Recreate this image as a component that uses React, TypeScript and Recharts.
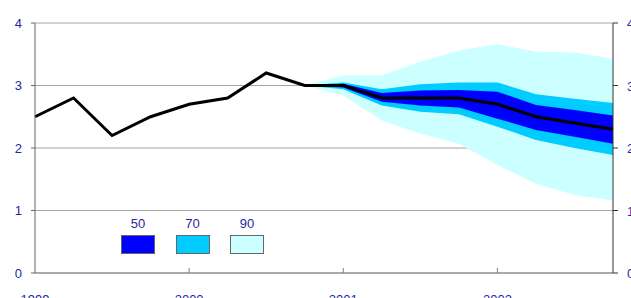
import { Area, CartesianGrid, ComposedChart, Line, XAxis, YAxis } from "recharts"

const quarters = [
  "1999", "1999Q2", "1999Q3", "1999Q4",
  "2000", "2000Q2", "2000Q3", "2000Q4",
  "2001", "2001Q2", "2001Q3", "2001Q4",
  "2002", "2002Q2", "2002Q3", "2002Q4",
]

const inflation = [2.5, 2.8, 2.2, 2.5, 2.7, 2.8, 3.2, 3.0, 3.0, 2.8, 2.8, 2.8, 2.7, 2.5, 2.4, 2.3]

// fan bands (null = no projection yet)
const low90 = [null, null, null, null, null, null, null, 3.0, 2.84, 2.44, 2.23, 2.07, 1.73, 1.43, 1.25, 1.16]
const high90 = [null, null, null, null, null, null, null, 3.0, 3.16, 3.16, 3.38, 3.56, 3.66, 3.54, 3.53, 3.43]
const low70 = [null, null, null, null, null, null, null, 3.0, 2.94, 2.68, 2.58, 2.54, 2.34, 2.13, 2.0, 1.89]
const high70 = [null, null, null, null, null, null, null, 3.0, 3.05, 2.94, 3.02, 3.05, 3.05, 2.86, 2.79, 2.72]
const low50 = [null, null, null, null, null, null, null, 3.0, 2.97, 2.74, 2.68, 2.65, 2.47, 2.29, 2.18, 2.07]
const high50 = [null, null, null, null, null, null, null, 3.0, 3.03, 2.88, 2.92, 2.93, 2.9, 2.69, 2.61, 2.52]

const bands = [
  { label: "50", color: "#0000ff" },
  { label: "70", color: "#00ccff" },
  { label: "90", color: "#ccffff" },
]

const yTicks = [0, 1, 2, 3, 4]

const data = quarters.map((q, i) => ({
  q,
  value: inflation[i],
  b90: low90[i] == null ? null : [low90[i], high90[i]],
  b70: low70[i] == null ? null : [low70[i], high70[i]],
  b50: low50[i] == null ? null : [low50[i], high50[i]],
}))

const textColor = "#28289c"
const font = "'Liberation Sans', Arial, sans-serif"

function XTick(props: any) {
  const { x, y, payload, index } = props
  return (
    <g>
      {index > 0 && <line x1={x} x2={x} y1={y - 5} y2={y} stroke="#808080" />}
      <text x={x} y={y + 31} textAnchor="middle" fill={textColor} fontSize={13} fontFamily={font}>
        {payload.value}
      </text>
    </g>
  )
}

// right axis labels sit mostly past the edge, like the original
function RightTick(props: any) {
  const { y, payload } = props
  return (
    <text x={627} y={y + 5} textAnchor="start" fill={textColor} fontSize={13} fontFamily={font}>
      {payload.value}
    </text>
  )
}

export default function App() {
  return (
    <div style={{ position: "absolute", left: 0, top: 0, width: 631, height: 298, background: "#fff", overflow: "hidden" }}>
      <ComposedChart width={631} height={298} data={data} margin={{ top: 23, right: 0, bottom: 0, left: 0 }}>
        <CartesianGrid yAxisId="left" vertical={false} stroke="#a6a6a6" />
        <XAxis
          dataKey="q"
          interval={3}
          height={25}
          tickLine={false}
          tickSize={0}
          tickMargin={0}
          axisLine={{ stroke: "#808080" }}
          tick={<XTick />}
        />
        <YAxis
          yAxisId="left"
          domain={[0, 4]}
          ticks={yTicks}
          width={35}
          tickSize={4}
          tickMargin={9}
          axisLine={{ stroke: "#666" }}
          tickLine={{ stroke: "#666" }}
          tick={{ fill: textColor, fontSize: 13, fontFamily: font }}
        />
        <YAxis
          yAxisId="right"
          orientation="right"
          domain={[0, 4]}
          ticks={yTicks}
          width={18}
          tickSize={5}
          axisLine={{ stroke: "#333" }}
          tickLine={{ stroke: "#333" }}
          tick={<RightTick />}
        />
        <Area yAxisId="left" dataKey="b90" stroke="none" fill={bands[2].color} fillOpacity={1} isAnimationActive={false} />
        <Area yAxisId="left" dataKey="b70" stroke="none" fill={bands[1].color} fillOpacity={1} isAnimationActive={false} />
        <Area yAxisId="left" dataKey="b50" stroke="none" fill={bands[0].color} fillOpacity={1} isAnimationActive={false} />
        <Line yAxisId="right" dataKey="value" stroke="#000" strokeWidth={3} dot={false} isAnimationActive={false} />
      </ComposedChart>
      {bands.map((b, i) => (
        <div key={b.label} style={{ position: "absolute", left: 121 + i * 54.5, top: 216 }}>
          <div style={{ width: 34, textAlign: "center", color: textColor, fontSize: 13, fontFamily: font, lineHeight: "16px" }}>
            {b.label}
          </div>
          <div style={{ width: 32, height: 17, marginTop: 3, background: b.color, border: "1px solid #666" }} />
        </div>
      ))}
    </div>
  )
}
